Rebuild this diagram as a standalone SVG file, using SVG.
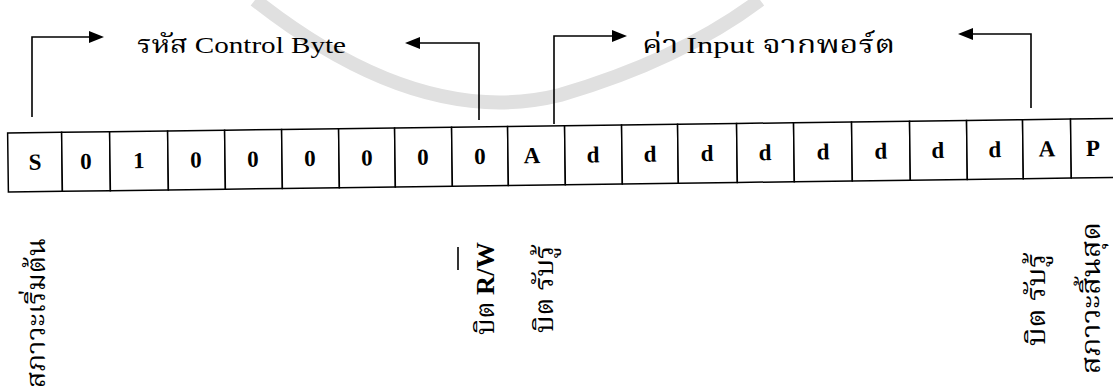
<svg xmlns="http://www.w3.org/2000/svg" width="1113" height="389" viewBox="0 0 1113 389">
  <style>
    .cell { fill: #fff; stroke: #000; stroke-width: 1.5; }
    .bit { font-family: "Liberation Serif", "DejaVu Serif", serif; font-weight: bold; font-size: 23px; text-anchor: middle; fill: #000; }
    .lbl { font-family: "Liberation Serif", "Noto Serif Thai", "Noto Sans Thai", "DejaVu Serif", serif; font-size: 24px; fill: #000; }
    .vlbl { font-family: "Liberation Serif", "Noto Serif Thai", "Noto Sans Thai", "DejaVu Serif", serif; font-size: 26px; fill: #000; }
    .vlbl .b { font-weight: bold; }
    .conn { fill: none; stroke: #000; stroke-width: 1.6; }
    .wm { fill: none; stroke: #e0e0e0; }
  </style>
  <defs>
    <marker id="ah" markerUnits="userSpaceOnUse" markerWidth="15" markerHeight="12" refX="6" refY="6" orient="auto">
      <path d="M0,0 L15,6 L0,12 Z" fill="#000"/>
    </marker>
  </defs>
  <rect width="1113" height="389" fill="#fff"/>

  <g id="watermark">
    <path class="wm" stroke-width="14" d="M255,0 Q420,130 560,95 Q680,60 760,0"/>
  </g>

  <g id="frame" transform="rotate(-0.75 8 162)">
    <g id="cell-S"><rect class="cell" x="8" y="133" width="54" height="59"/><text class="bit" x="35" y="170">S</text></g>
    <g id="cell-b7"><rect class="cell" x="62" y="133" width="48" height="59"/><text class="bit" x="86" y="170">0</text></g>
    <g id="cell-b6"><rect class="cell" x="110" y="133" width="58" height="59"/><text class="bit" x="139" y="170">1</text></g>
    <g id="cell-b5"><rect class="cell" x="168" y="133" width="57" height="59"/><text class="bit" x="196" y="170">0</text></g>
    <g id="cell-b4"><rect class="cell" x="225" y="133" width="57" height="59"/><text class="bit" x="253" y="170">0</text></g>
    <g id="cell-b3"><rect class="cell" x="282" y="133" width="57" height="59"/><text class="bit" x="310" y="170">0</text></g>
    <g id="cell-b2"><rect class="cell" x="339" y="133" width="56" height="59"/><text class="bit" x="367" y="170">0</text></g>
    <g id="cell-b1"><rect class="cell" x="395" y="133" width="57" height="59"/><text class="bit" x="423" y="170">0</text></g>
    <g id="cell-rw"><rect class="cell" x="452" y="133" width="56" height="59"/><text class="bit" x="480" y="170">0</text></g>
    <g id="cell-A1"><rect class="cell" x="508" y="133" width="57" height="59"/><text class="bit" x="532" y="170">A</text></g>
    <g id="cell-d7"><rect class="cell" x="565" y="133" width="57" height="59"/><text class="bit" x="593" y="170">d</text></g>
    <g id="cell-d6"><rect class="cell" x="622" y="133" width="56" height="59"/><text class="bit" x="650" y="170">d</text></g>
    <g id="cell-d5"><rect class="cell" x="678" y="133" width="59" height="59"/><text class="bit" x="707" y="170">d</text></g>
    <g id="cell-d4"><rect class="cell" x="737" y="133" width="57" height="59"/><text class="bit" x="765" y="170">d</text></g>
    <g id="cell-d3"><rect class="cell" x="794" y="133" width="58" height="59"/><text class="bit" x="823" y="170">d</text></g>
    <g id="cell-d2"><rect class="cell" x="852" y="133" width="58" height="59"/><text class="bit" x="881" y="170">d</text></g>
    <g id="cell-d1"><rect class="cell" x="910" y="133" width="57" height="59"/><text class="bit" x="938" y="170">d</text></g>
    <g id="cell-d0"><rect class="cell" x="967" y="133" width="56" height="59"/><text class="bit" x="995" y="170">d</text></g>
    <g id="cell-A2"><rect class="cell" x="1023" y="133" width="48" height="59"/><text class="bit" x="1047" y="170">A</text></g>
    <g id="cell-P"><rect class="cell" x="1071" y="133" width="60" height="59"/><text class="bit" x="1093" y="170">P</text></g>
  </g>

  <g id="connectors">
    <path class="conn" d="M32,117 V37 H95" marker-end="url(#ah)"/>
    <path class="conn" d="M479,120 V43 H414" marker-end="url(#ah)"/>
    <path class="conn" d="M554,124 V36 H618" marker-end="url(#ah)"/>
    <path class="conn" d="M1031,108 V34 H967" marker-end="url(#ah)"/>
  </g>

  <g id="label-control"><text class="lbl" x="137" y="53" textLength="209" lengthAdjust="spacingAndGlyphs">รหัส Control Byte</text></g>
  <g id="label-input"><text class="lbl" x="642" y="53" textLength="253" lengthAdjust="spacingAndGlyphs">ค่า Input จากพอร์ต</text></g>

  <g id="label-start"><text class="vlbl" transform="translate(45,388) rotate(-90)" textLength="150" lengthAdjust="spacingAndGlyphs">สภาวะเริ่มต้น</text></g>
  <g id="label-rw">
    <text class="vlbl" transform="translate(494,335) rotate(-90)" textLength="93" lengthAdjust="spacingAndGlyphs">บิต <tspan class="b">R/W</tspan></text>
    <line x1="458" y1="247" x2="458" y2="270" stroke="#000" stroke-width="1.6"/>
  </g>
  <g id="label-ack1"><text class="vlbl" transform="translate(553,333) rotate(-90)" textLength="88" lengthAdjust="spacingAndGlyphs">บิต รับรู้</text></g>
  <g id="label-ack2"><text class="vlbl" transform="translate(1045,346) rotate(-90)" textLength="93" lengthAdjust="spacingAndGlyphs">บิต รับรู้</text></g>
  <g id="label-stop"><text class="vlbl" transform="translate(1100,374) rotate(-90)" textLength="152" lengthAdjust="spacingAndGlyphs">สภาวะสิ้นสุด</text></g>
</svg>
